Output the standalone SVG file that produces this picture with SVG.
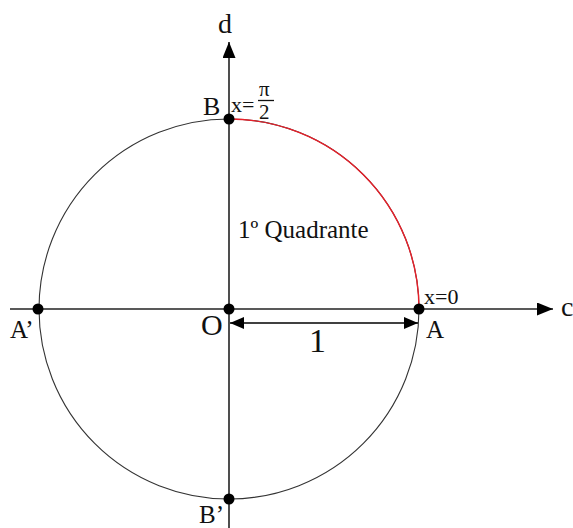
<svg xmlns="http://www.w3.org/2000/svg" width="573" height="528" viewBox="0 0 573 528">
<style>
.t{font-family:"Liberation Serif","Times New Roman",serif;fill:#111}
.ax{stroke:#222;stroke-width:1.6;fill:none}
.dot{fill:#000}
</style>
<defs>
<marker id="big" viewBox="0 0 10 10" refX="10" refY="5" markerWidth="16" markerHeight="13" markerUnits="userSpaceOnUse" orient="auto-start-reverse" preserveAspectRatio="none"><path d="M0,0 L10,5 L0,10 z" fill="#000"/></marker>
<marker id="dim" viewBox="0 0 10 10" refX="10" refY="5" markerWidth="14" markerHeight="12" markerUnits="userSpaceOnUse" orient="auto-start-reverse" preserveAspectRatio="none"><path d="M0,0 L10,5 L0,10 z" fill="#000"/></marker>
</defs>
<g id="connectors">
<circle cx="229" cy="309" r="190" fill="none" stroke="#333" stroke-width="1.1"/>
<path d="M229,119 A190,190 0 0 1 419,309" fill="none" stroke="#e8202a" stroke-width="1.4"/>
<line class="ax" x1="10" y1="309" x2="553" y2="309" marker-end="url(#big)"/>
<line class="ax" x1="229" y1="528" x2="229" y2="42" marker-end="url(#big)"/>
<line x1="230" y1="323" x2="418" y2="323" stroke="#000" stroke-width="1.6" marker-start="url(#dim)" marker-end="url(#dim)"/>
</g>
<g id="O"><circle class="dot" cx="229" cy="309" r="5.5"/><text class="t" x="201" y="335" font-size="30">O</text></g>
<g id="A"><circle class="dot" cx="419" cy="309" r="5.5"/><text class="t" x="426" y="338" font-size="25">A</text><text class="t" x="424" y="304" font-size="22">x=0</text></g>
<g id="A2"><circle class="dot" cx="38" cy="309" r="5.5"/><text class="t" x="10" y="338" font-size="25">A’</text></g>
<g id="B"><circle class="dot" cx="229" cy="119" r="5.5"/><text class="t" x="203" y="115" font-size="26">B</text>
<text class="t" x="231" y="112" font-size="22">x=</text>
<text class="t" x="259" y="96" font-size="21">π</text>
<line x1="258" y1="100.5" x2="274" y2="100.5" stroke="#111" stroke-width="1.3"/>
<text class="t" x="259" y="119" font-size="21">2</text></g>
<g id="B2"><circle class="dot" cx="229" cy="499" r="5.5"/><text class="t" x="199" y="523" font-size="25">B’</text></g>
<g id="d"><text class="t" x="218" y="33" font-size="28">d</text></g>
<g id="c"><text class="t" x="561" y="316" font-size="28">c</text></g>
<g id="one"><text class="t" x="309" y="352" font-size="34">1</text></g>
<g id="quad"><text class="t" x="238" y="238" font-size="25">1º Quadrante</text></g>
</svg>
